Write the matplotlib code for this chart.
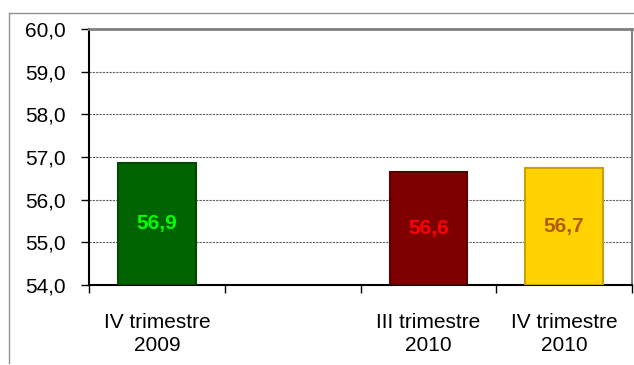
import matplotlib.pyplot as plt
from matplotlib.lines import Line2D
from matplotlib.ticker import FixedLocator, NullFormatter

plt.rcParams['font.family'] = ['Liberation Sans', 'DejaVu Sans']

categories = ['IV trimestre\n2009', '', 'III trimestre\n2010', 'IV trimestre\n2010']
values = [56.87, None, 56.64, 56.74]
fill_colors = ['#006400', None, '#7f0000', '#ffd200']
edge_colors = ['#004a00', None, '#5a0000', '#c9a200']
label_colors = ['#00ff00', None, '#ff0000', '#b35a00']

fig = plt.figure(figsize=(6.34, 3.65), dpi=100)
ax = fig.add_axes([89 / 634, 80 / 365, 543 / 634, 256 / 365])

x = list(range(len(categories)))
for i, v in enumerate(values):
    if v is None:
        continue
    ax.bar(i, v - 54, bottom=54, width=0.57, color=fill_colors[i],
           edgecolor=edge_colors[i], linewidth=1.5, zorder=3)
    ax.text(i, 54 + (v - 54) / 2, f'{v:.1f}'.replace('.', ','),
            ha='center', va='center', fontsize=15, fontweight='bold',
            color=label_colors[i], zorder=4)

ax.set_xlim(-0.5, len(categories) - 0.5)
ax.set_ylim(54, 60)
ax.set_yticks([54, 55, 56, 57, 58, 59, 60])
ax.set_yticklabels([f'{t:.1f}'.replace('.', ',') for t in range(54, 61)], fontsize=15)
ax.yaxis.grid(True, linestyle=(0, (2, 1)), color='#606060', linewidth=0.8, zorder=0)
ax.tick_params(axis='y', length=5.5, width=1, pad=11)

ax.set_xticks(x)
ax.set_xticklabels(categories, fontsize=15, linespacing=1.3)
ax.tick_params(axis='x', which='major', length=0, pad=20)
ax.xaxis.set_minor_locator(FixedLocator([i - 0.5 for i in range(len(categories) + 1)]))
ax.xaxis.set_minor_formatter(NullFormatter())
ax.tick_params(axis='x', which='minor', length=6, width=1, color='black')

ax.spines['left'].set_color('black')
ax.spines['left'].set_linewidth(1.5)
ax.spines['bottom'].set_color('black')
ax.spines['bottom'].set_linewidth(1.5)
ax.spines['top'].set_color('#808080')
ax.spines['top'].set_linewidth(2)
ax.spines['right'].set_color('#808080')
ax.spines['right'].set_linewidth(1.5)

# outer chart frame (top and left edges visible)
fig.add_artist(Line2D([9 / 634, 1], [1 - 13 / 365, 1 - 13 / 365], color='#909090', linewidth=1))
fig.add_artist(Line2D([9 / 634, 9 / 634], [1 - 13 / 365, 2 / 365], color='#909090', linewidth=1))

fig.savefig('out.png', dpi=100)
